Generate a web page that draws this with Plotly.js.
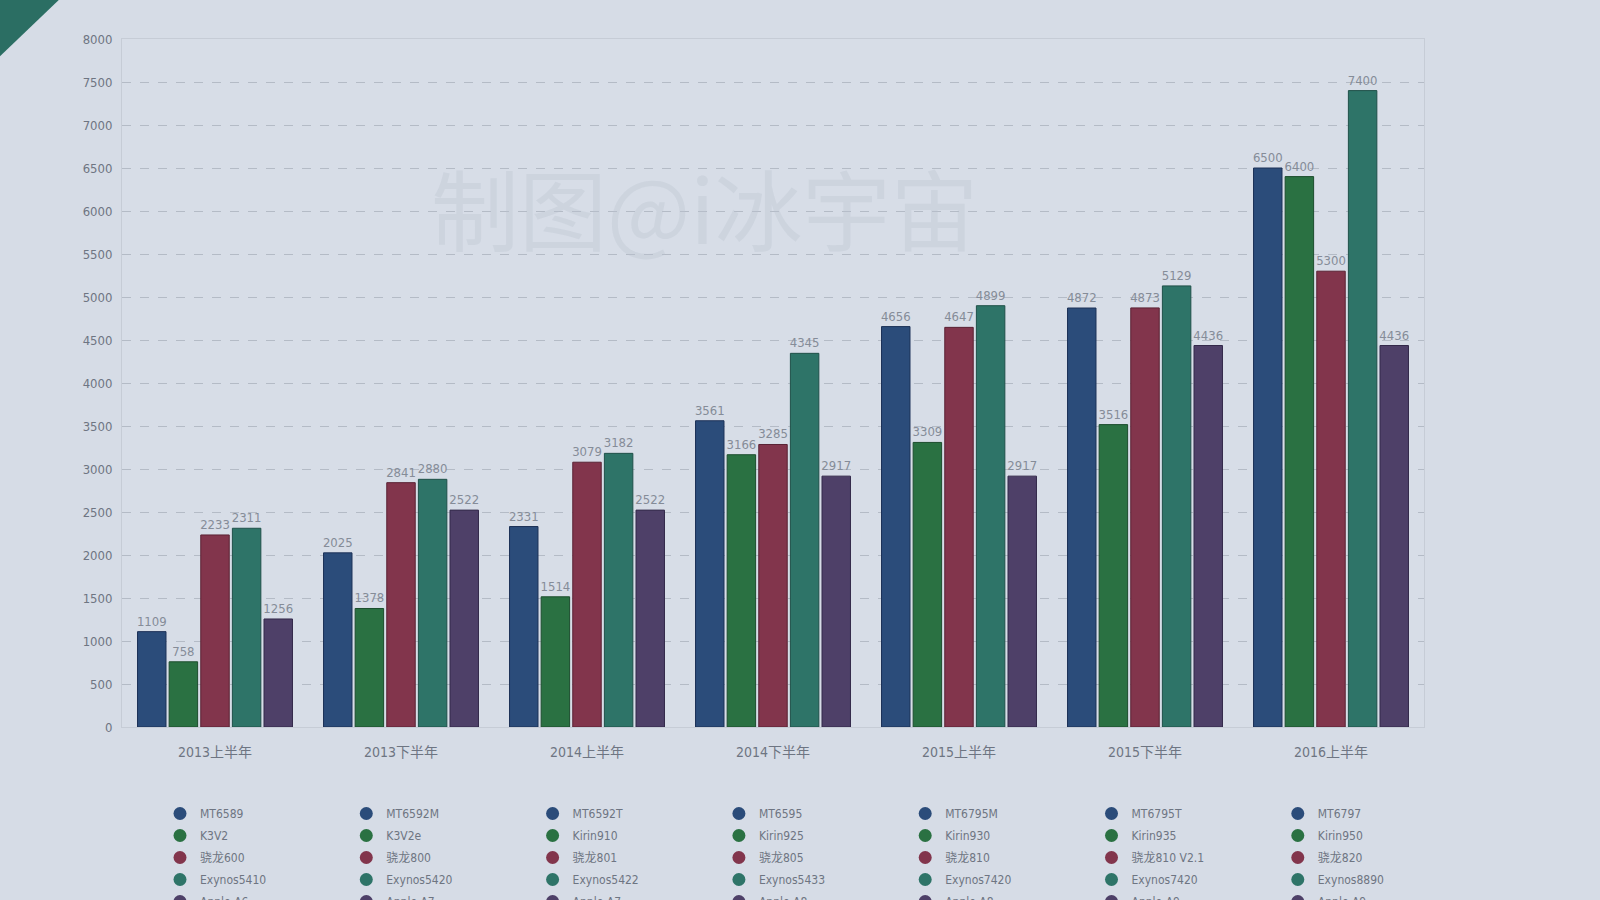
<!DOCTYPE html>
<html><head><meta charset="utf-8">
<script src="https://cdn.plot.ly/plotly-3.0.1.min.js"></script>
<style>html,body{margin:0;padding:0;background:#d6dce6;}#chart{width:1600px;height:900px;}</style>
</head><body><div id="chart"></div>
<script>
// ---- data ----
const categories = ['2013上半年','2013下半年','2014上半年','2014下半年','2015上半年','2015下半年','2016上半年'];

const mediatekScores = [1109, 2025, 2331, 3561, 4656, 4872, 6500];
const kirinScores    = [758, 1378, 1514, 3166, 3309, 3516, 6400];
const snapdragonScores = [2233, 2841, 3079, 3285, 4647, 4873, 5300];
const exynosScores   = [2311, 2880, 3182, 4345, 4899, 5129, 7400];
const appleScores    = [1256, 2522, 2522, 2917, 2917, 4436, 4436];

const mediatekChips = ['MT6589','MT6592M','MT6592T','MT6595','MT6795M','MT6795T','MT6797'];
const kirinChips    = ['K3V2','K3V2e','Kirin910','Kirin925','Kirin930','Kirin935','Kirin950'];
const snapdragonChips = ['骁龙600','骁龙800','骁龙801','骁龙805','骁龙810','骁龙810 V2.1','骁龙820'];
const exynosChips   = ['Exynos5410','Exynos5420','Exynos5422','Exynos5433','Exynos7420','Exynos7420','Exynos8890'];
const appleChips    = ['Apple A6','Apple A7','Apple A7','Apple A8','Apple A8','Apple A9','Apple A9'];

const watermark = '制图@i冰宇宙';

// ---- styling ----
const seriesValues = [mediatekScores, kirinScores, snapdragonScores, exynosScores, appleScores];
const seriesChips = [mediatekChips, kirinChips, snapdragonChips, exynosChips, appleChips];
const seriesColors = ['#2b4c7a', '#2a7142', '#82354c', '#2e7468', '#4e4068'];
const seriesEdges  = ['#1c3157', '#1c4d2d', '#5a2234', '#1f5048', '#33294a'];
const FONT = '"Liberation Sans Narrow", "DejaVu Sans Condensed", "Noto Sans CJK SC", sans-serif';

const traces = [];
seriesValues.forEach((vals, s) => {
  traces.push({
    type: 'bar', x: categories, y: vals,
    marker: {color: seriesColors[s], line: {color: seriesEdges[s], width: 1}},
    text: vals.map(String), textposition: 'outside', cliponaxis: false,
    constraintext: 'none',
    textfont: {family: FONT, size: 13, color: '#858c98'},
    showlegend: false, hoverinfo: 'x+y'
  });
});

// per-period legends
const plotL = 122, plotW = 1302, plotB = 727, plotH = 688;
const px2x = p => (p - plotL) / plotW;
const px2y = p => (plotB - p) / plotH;
const layoutLegends = {};
categories.forEach((cat, g) => {
  const key = g === 0 ? 'legend' : 'legend' + (g + 1);
  seriesChips.forEach((chips, s) => {
    traces.push({
      type: 'scatter', mode: 'markers', x: [cat], y: [null],
      marker: {size: 13, color: seriesColors[s]},
      name: chips[g], legend: key, legendgroup: 'g' + g + 's' + s,
      showlegend: true, hoverinfo: 'skip'
    });
  });
  const leftPx = 160 + g * 186.3;
  layoutLegends[key] = {
    x: px2x(leftPx), xanchor: 'left',
    y: px2y(799), yanchor: 'top',
    bgcolor: 'rgba(0,0,0,0)', borderwidth: 0,
    font: {family: FONT, size: 12, color: '#6e7582'},
    tracegroupgap: 3, itemwidth: 30, itemclick: false, itemdoubleclick: false
  };
});

const tri = [[-5, -5], [64, -5], [-5, 61]];
const triPath = 'M ' + tri.map(p => px2x(p[0]) + ',' + px2y(p[1])).join(' L ') + ' Z';

const layout = Object.assign({
  width: 1600, height: 900,
  paper_bgcolor: '#d6dce6', plot_bgcolor: '#d7dde7',
  margin: {l: 122, r: 176, t: 39, b: 173, autoexpand: false},
  barmode: 'group', bargap: 0.15, bargroupgap: 0.1,
  font: {family: FONT, color: '#6e7582'},
  xaxis: {
    type: 'category', showgrid: false, zeroline: false,
    showline: true, mirror: true, linecolor: '#c6ccd6', linewidth: 1,
    tickfont: {family: FONT, size: 14, color: '#6e7582'},
    ticklabelstandoff: 12, ticks: ''
  },
  yaxis: {
    range: [0, 8000], dtick: 500, tick0: 0,
    showgrid: true, gridcolor: '#b4bbc6', griddash: 'dash', gridwidth: 1,
    zeroline: false, showline: true, mirror: true, linecolor: '#c6ccd6', linewidth: 1,
    tickfont: {family: FONT, size: 13, color: '#6e7582'},
    ticklabelstandoff: 6, ticks: ''
  },
  shapes: [{
    type: 'path', xref: 'paper', yref: 'paper', layer: 'above',
    path: triPath, fillcolor: '#2b6e63', line: {width: 0}
  }],
  annotations: [{
    text: watermark, xref: 'paper', yref: 'paper',
    x: px2x(704), y: px2y(205), xanchor: 'center', yanchor: 'middle', showarrow: false,
    font: {family: '"Noto Sans CJK SC", sans-serif', size: 88, color: 'rgba(186,194,206,0.35)'}
  }]
}, layoutLegends);

Plotly.newPlot('chart', traces, layout, {displayModeBar: false});
</script></body></html>
